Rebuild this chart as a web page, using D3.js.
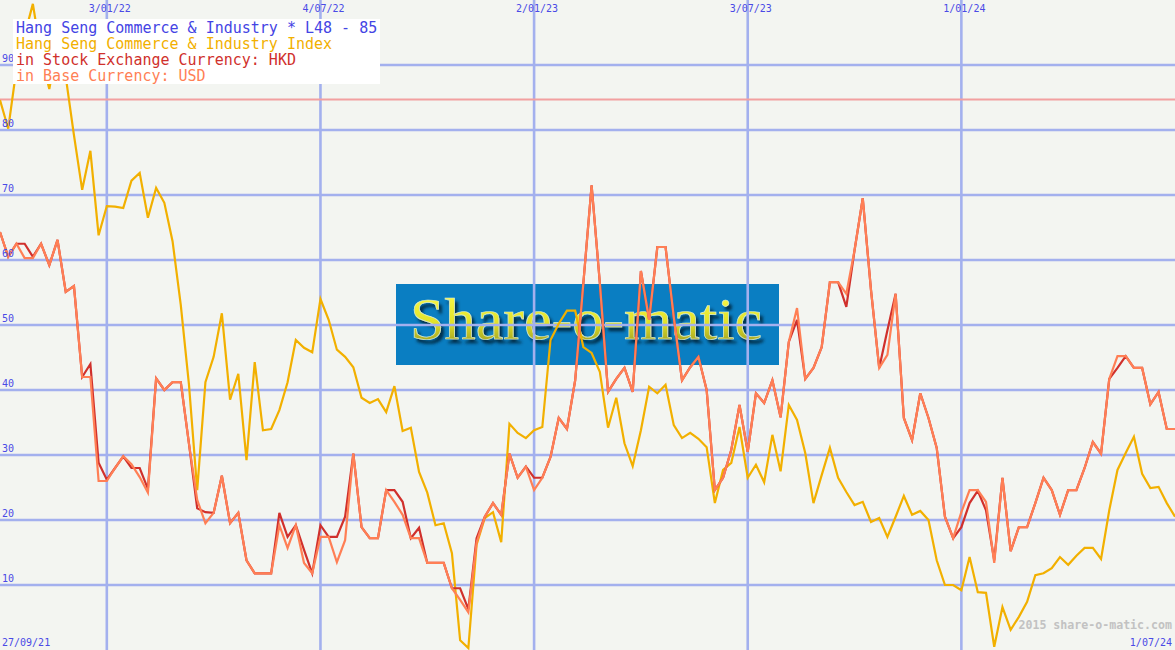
<!DOCTYPE html>
<html><head><meta charset="utf-8">
<script src="https://cdn.jsdelivr.net/npm/d3@7"></script>
<style>html,body{margin:0;padding:0;background:#f3f5f1;overflow:hidden}</style>
</head><body><svg id="c" width="1175" height="650"></svg>
<script>
// ---------- data ----------
const startWeek = "04/10/21";          // first weekly observation
const weekCount = 144;
const gridDateLabels = ["3/01/22","4/07/22","2/01/23","3/07/23","1/01/24"];
const yTickValues = [10,20,30,40,50,60,70,80,90];
const firstDateLabel = "27/09/21";
const lastDateLabel = "1/07/24";
const refLevel = 84.7;
const legendLines = [
  "Hang Seng Commerce & Industry * L48 - 85",
  "Hang Seng Commerce & Industry Index",
  "in Stock Exchange Currency: HKD",
  "in Base Currency: USD"
];
const indexValues = [
 84.6,80.2,89.4,94.6,99.4,91.5,86.3,93.1,88.2,79.2,
 70.8,76.8,63.8,68.3,68.2,68.0,72.2,73.4,66.5,71.1,
 68.8,62.9,53.1,40.8,24.6,41.2,45.1,51.8,38.5,42.5,
 29.2,44.3,33.8,34.0,36.9,41.2,47.7,46.5,45.8,54.0,
 50.8,46.2,45.1,43.5,38.8,38.0,38.6,36.6,40.6,33.7,
 34.2,27.4,24.2,19.2,19.5,14.9,1.5,0.3,16.2,20.3,
 21.2,16.6,34.8,33.4,32.6,33.8,34.3,47.7,50.2,52.2,
 52.2,46.6,45.7,42.8,34.2,38.8,31.8,28.3,33.8,40.5,
 39.5,40.8,34.6,32.6,33.4,32.5,31.2,22.6,27.7,28.8,
 34.3,26.5,28.5,25.8,33.1,27.5,37.7,35.4,30.3,22.6,
 26.9,31.1,26.5,24.3,22.3,22.8,19.7,20.3,17.4,20.5,
 23.7,20.8,21.4,20.0,13.8,10.0,10.0,9.2,14.3,8.9,
 8.8,0.5,6.6,3.1,5.1,7.4,11.5,11.8,12.6,14.3,
 13.1,14.5,15.7,15.7,14.0,21.5,27.7,30.3,32.8,27.1,
 24.9,25.1,22.6,20.5];
const hkdValues = [
 64.3,60.5,62.5,62.5,60.5,62.5,59.2,63.1,55.1,56.0,
 42.0,44.0,28.8,26.2,28.0,29.8,28.0,28.0,24.8,41.8,
 40.0,41.2,41.2,31.7,21.8,21.2,21.1,26.8,19.5,21.1,
 13.8,11.8,11.8,11.8,21.1,17.4,19.2,15.4,11.8,19.2,
 17.4,17.4,20.5,30.2,18.9,17.2,17.2,24.6,24.6,22.8,
 17.2,18.8,13.4,13.4,13.4,9.5,9.5,6.3,17.2,20.5,
 22.6,20.8,30.2,26.5,28.2,26.5,26.5,29.7,35.7,34.0,
 41.5,56.5,71.5,56.5,39.7,41.7,43.4,39.7,58.3,50.8,
 62.0,62.0,51.2,41.5,43.5,45.1,40.0,24.6,26.5,30.8,
 37.7,30.5,39.5,38.0,41.5,35.8,47.4,50.8,41.7,43.4,
 46.6,56.6,56.6,52.8,61.5,69.5,55.4,43.4,49.2,54.8,
 35.7,32.3,39.5,35.7,31.1,20.5,17.2,18.9,22.6,24.5,
 21.5,13.8,26.5,15.2,18.9,18.9,22.6,26.5,24.6,20.8,
 24.6,24.6,28.0,32.0,30.2,41.7,43.4,45.2,43.4,43.4,
 37.8,39.7,34.0,34.0];
const usdValues = [
 64.3,60.5,62.5,60.3,60.3,62.5,59.2,63.1,55.1,56.0,
 42.0,42.0,26.0,26.0,28.0,29.8,28.6,26.6,24.2,41.8,
 40.0,41.2,41.2,31.7,23.1,19.5,21.1,26.8,19.5,21.1,
 13.8,11.8,11.8,11.8,19.2,15.7,19.2,13.4,11.8,17.4,
 17.4,13.5,16.9,30.2,18.9,17.2,17.2,24.6,22.8,20.8,
 17.2,17.2,13.4,13.4,13.4,9.5,7.7,5.8,16.5,20.5,
 22.6,20.8,30.2,26.5,28.2,24.6,26.5,29.7,35.7,34.0,
 41.5,56.5,71.5,56.5,39.7,41.7,43.4,39.7,58.3,50.8,
 62.0,62.0,51.2,41.5,43.5,45.1,40.0,24.6,26.5,30.8,
 37.7,30.5,39.5,38.0,41.5,35.8,47.4,52.6,41.7,43.4,
 46.6,56.6,56.6,54.8,61.5,69.5,55.4,43.4,45.4,54.8,
 35.7,32.3,39.5,35.7,31.1,20.5,17.2,21.2,24.6,24.6,
 22.8,13.4,26.5,15.2,18.9,18.9,22.6,26.5,24.6,20.8,
 24.6,24.6,28.0,32.0,30.2,41.7,45.2,45.2,43.4,43.4,
 37.8,39.7,34.0,34.0];

// ---------- chart ----------
const W = 1175, H = 650;
const parse = d3.utcParse("%d/%m/%y");
const start = parse(startWeek);
const dates = d3.range(weekCount).map(i => d3.utcDay.offset(start, 7*i));
const x = d3.scaleUtc().domain([dates[0], dates[weekCount-1]]).range([0, W]);
const y = d3.scaleLinear().domain([0, 100]).range([H, 0]);

const svg = d3.select("#c");
const mono = "'DejaVu Sans Mono', monospace";
const gridColor = "#a3b0ee";
const axisText = "#4a4ae6";

svg.append("rect").attr("width", W).attr("height", H).attr("fill", "#f3f5f1");

// watermark
const defs = svg.append("defs");
const g1 = defs.append("linearGradient").attr("id","wm").attr("x1",0).attr("y1",0).attr("x2",0).attr("y2",1);
g1.append("stop").attr("offset","0%").attr("stop-color","#ffff50");
g1.append("stop").attr("offset","55%").attr("stop-color","#e2e22a");
g1.append("stop").attr("offset","100%").attr("stop-color","#868620");
const f = defs.append("filter").attr("id","shadow").attr("x","-5%").attr("y","-20%").attr("width","115%").attr("height","150%");
f.append("feDropShadow").attr("dx",3).attr("dy",4).attr("stdDeviation",1.6)
  .attr("flood-color","#02283f").attr("flood-opacity",0.9);
svg.append("rect").attr("x",396).attr("y",284).attr("width",383).attr("height",81).attr("fill","#0a7ec2");
svg.append("text").attr("x",410).attr("y",339).attr("font-family","'Liberation Serif', serif")
  .attr("font-size",60).attr("textLength",352).attr("lengthAdjust","spacingAndGlyphs")
  .attr("fill","url(#wm)").attr("stroke","#d8ecd0").attr("stroke-width",0.7)
  .attr("filter","url(#shadow)").text("Share-o-matic");

// grid
svg.append("g").selectAll("line").data(yTickValues).join("line")
  .attr("x1",0).attr("x2",W).attr("y1",d=>y(d)).attr("y2",d=>y(d))
  .attr("stroke",gridColor).attr("stroke-width",2.6);
const gridDates = gridDateLabels.map(parse);
svg.append("g").selectAll("line").data(gridDates).join("line")
  .attr("x1",d=>x(d)).attr("x2",d=>x(d)).attr("y1",0).attr("y2",H)
  .attr("stroke",gridColor).attr("stroke-width",2.6);

svg.append("line").attr("x1",0).attr("x2",W).attr("y1",y(refLevel)).attr("y2",y(refLevel))
  .attr("stroke","#f2a0a0").attr("stroke-width",2);

// series
const line = d3.line().x((d,i)=>x(dates[i])).y(d=>y(d));
const series = [
  {vals:indexValues, color:"#f2b000"},
  {vals:hkdValues, color:"#d0302c"},
  {vals:usdValues, color:"#ff7f55"}
];
svg.append("g").selectAll("path").data(series).join("path")
  .attr("d",d=>line(d.vals)).attr("fill","none").attr("stroke",d=>d.color)
  .attr("stroke-width",2.2).attr("stroke-linejoin","miter");

// axis labels
svg.append("g").selectAll("text").data(yTickValues).join("text")
  .attr("x",2).attr("y",d=>y(d)-3).attr("font-family",mono).attr("font-size",10)
  .attr("fill",axisText).text(d=>d);
svg.append("g").selectAll("text").data(gridDates).join("text")
  .attr("x",d=>x(d)+3).attr("y",12).attr("text-anchor","middle").attr("font-family",mono).attr("font-size",10)
  .attr("fill",axisText).text((d,i)=>gridDateLabels[i]);
svg.append("text").attr("x",2).attr("y",646).attr("font-family",mono).attr("font-size",10)
  .attr("fill",axisText).text(firstDateLabel);
svg.append("text").attr("x",1172).attr("y",646).attr("text-anchor","end").attr("font-family",mono).attr("font-size",10)
  .attr("fill",axisText).text(lastDateLabel);
svg.append("text").attr("x",1172).attr("y",629).attr("text-anchor","end").attr("font-family",mono).attr("font-size",11.6)
  .attr("font-weight","bold").attr("fill","#c2c2c2").text("2015 share-o-matic.com");

// legend
svg.append("rect").attr("x",13).attr("y",19).attr("width",367).attr("height",65).attr("fill","#ffffff");
const legendColors = ["#4444e4","#f2b000","#d0302c","#ff7f55"];
svg.append("g").selectAll("text").data(legendLines).join("text")
  .attr("x",16).attr("y",(d,i)=>33+16*i).attr("font-family",mono).attr("font-size",15)
  .attr("fill",(d,i)=>legendColors[i]).text(d=>d);
</script></body></html>
